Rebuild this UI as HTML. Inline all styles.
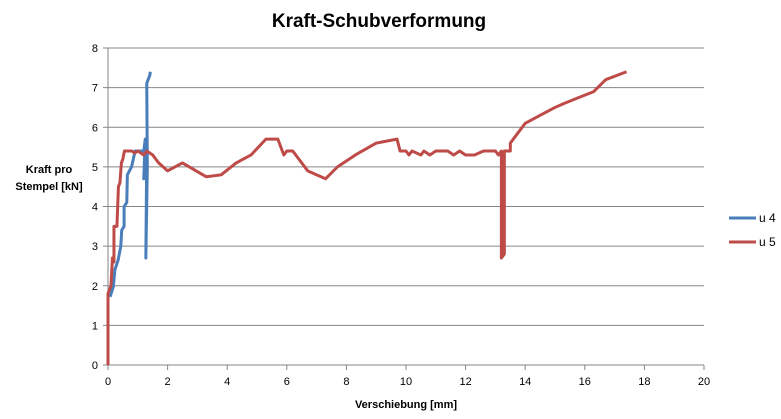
<!DOCTYPE html>
<html><head><meta charset="utf-8"><style>
body{margin:0;background:#fff;font-family:"Liberation Sans",Arial,sans-serif;}
svg{display:block}
</style></head><body>
<svg id="chart" width="781" height="419" xmlns="http://www.w3.org/2000/svg">
<text x="379" y="27" text-anchor="middle" font-size="19" font-weight="bold" fill="#000">Kraft-Schubverformung</text>
<text x="49" y="173" text-anchor="middle" font-size="11" font-weight="bold"><tspan x="49" dy="0">Kraft pro</tspan><tspan x="49" dy="17">Stempel [kN]</tspan></text>
<text x="406" y="408" text-anchor="middle" font-size="11" font-weight="bold">Verschiebung [mm]</text>
<g id="grid"></g><g id="series"></g>
<g>
<line x1="729" y1="218" x2="756" y2="218" stroke="#4a7ebb" stroke-width="3"/>
<text x="759" y="222" font-size="12">u 4</text>
<line x1="729" y1="242" x2="756" y2="242" stroke="#be4b48" stroke-width="3"/>
<text x="759" y="246" font-size="12">u 5</text>
</g>
</svg>
<script>
const xTicks=[0,2,4,6,8,10,12,14,16,18,20];
const yTicks=[0,1,2,3,4,5,6,7,8];
const u4X=[0.07,0.18,0.23,0.34,0.43,0.46,0.54,0.54,0.63,0.65,0.79,0.85,0.91,1.2,1.25,1.2,1.28,1.22,1.3,1.27,1.32,1.3,1.32,1.4,1.42];
const u4Y=[1.72,1.98,2.4,2.65,3.0,3.4,3.5,4.0,4.1,4.8,5.0,5.2,5.4,5.4,5.7,4.7,5.5,4.8,5.3,2.7,5.0,7.1,7.15,7.3,7.4];
const u5X=[0,0,0.1,0.15,0.2,0.2,0.3,0.35,0.4,0.45,0.5,0.55,0.8,0.9,1.0,1.2,1.3,1.5,1.7,2.0,2.5,3.3,3.8,4.3,4.8,5.3,5.7,5.9,6.0,6.2,6.7,7.3,7.7,8.3,9.0,9.7,9.8,10.0,10.1,10.2,10.5,10.6,10.8,11.0,11.4,11.6,11.8,12.0,12.3,12.6,13.0,13.1,13.2,13.2,13.3,13.3,13.5,13.5,13.7,14.0,14.5,15.0,15.3,15.8,16.3,16.7,17.4];
const u5Y=[0,1.8,2.0,2.7,2.6,3.5,3.5,4.5,4.6,5.1,5.2,5.4,5.4,5.35,5.4,5.3,5.4,5.3,5.1,4.9,5.1,4.75,4.8,5.1,5.3,5.7,5.7,5.3,5.4,5.4,4.9,4.7,5.0,5.3,5.6,5.7,5.4,5.4,5.3,5.4,5.3,5.4,5.3,5.4,5.4,5.3,5.4,5.3,5.3,5.4,5.4,5.3,5.4,2.7,2.8,5.4,5.4,5.6,5.8,6.1,6.3,6.5,6.6,6.75,6.9,7.2,7.4];
const X0=108,X1=704,Y0=365,Y1=48;
const sx=v=>X0+(v-0)/20*(X1-X0);
const sy=v=>Y0-(v-0)/8*(Y0-Y1);
const NS="http://www.w3.org/2000/svg";
const grid=document.getElementById('grid'),ser=document.getElementById('series');
function mk(tag,attrs,parent){const e=document.createElementNS(NS,tag);for(const k in attrs)e.setAttribute(k,attrs[k]);parent.appendChild(e);return e;}
yTicks.forEach(t=>{
  const l=mk('line',{x1:X0,x2:X1,y1:sy(t),y2:sy(t),stroke:'#868686','stroke-width':1},grid);
  
  
  const tk=mk('line',{x1:X0-5,x2:X0,y1:sy(t),y2:sy(t),stroke:'#868686'},grid);
  
  
  const tx=mk('text',{x:X0-10,y:sy(t)+4,'text-anchor':'end','font-size':11},grid);
  tx.textContent=t;
  
  
});
mk('line',{x1:X0,x2:X0,y1:Y1,y2:Y0,stroke:'#868686'},grid);
xTicks.forEach(t=>{
  const tk=mk('line',{x1:sx(t),x2:sx(t),y1:Y0,y2:Y0+5,stroke:'#868686'},grid);
  
  
  const tx=mk('text',{x:sx(t),y:Y0+20,'text-anchor':'middle','font-size':11},grid);
  tx.textContent=t;
  
  
});
function line(xs,ys,color,name){
  const p=mk('polyline',{points:xs.map((x,i)=>sx(x)+','+sy(ys[i])).join(' '),fill:'none',stroke:color,'stroke-width':3,'stroke-linejoin':'round'},ser);
  
  
}
line(u4X,u4Y,'#4a7ebb','series-u4-line');
line(u5X,u5Y,'#be4b48','series-u5-line');
</script>
</body></html>
